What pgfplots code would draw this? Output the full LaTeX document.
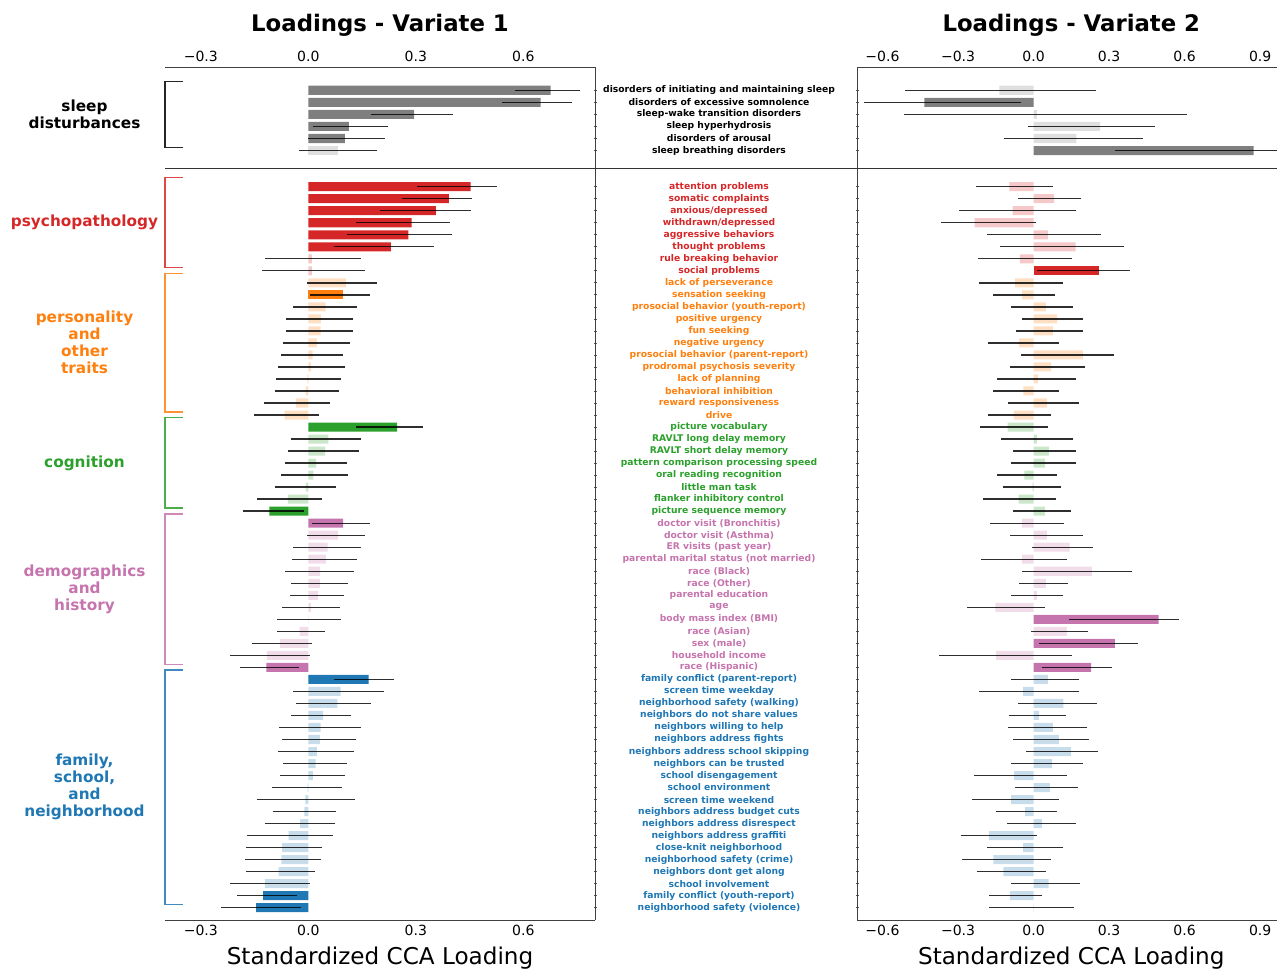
\documentclass[border=0pt]{standalone}
\usepackage{pgfplots}
\pgfplotsset{compat=1.18}
\usepackage{pgfplotstable}
\usepackage{fontspec}
\setmainfont{DejaVu Sans}

\definecolor{cgray}{HTML}{7F7F7F}
\definecolor{cred}{HTML}{D62728}
\definecolor{corange}{HTML}{FF7F0E}
\definecolor{cgreen}{HTML}{2CA02C}
\definecolor{cpink}{HTML}{C674AD}
\definecolor{cblue}{HTML}{1F77B4}

% code = 2*g + s  (g: group, s: significant)
\pgfplotstableread{
row val lo hi g s
0 0.676 0.577 0.758 0 1
1 0.648 0.541 0.735 0 1
2 0.295 0.174 0.405 0 1
3 0.113 0.013 0.222 0 1
4 0.102 0.000 0.214 0 1
5 0.082 -0.027 0.193 0 0
}\topL

\pgfplotstableread{
row val lo hi g s
0 -0.136 -0.511 0.248 0 0
1 -0.434 -0.674 -0.049 0 1
2 0.013 -0.515 0.609 0 0
3 0.264 -0.022 0.482 0 0
4 0.170 -0.118 0.434 0 0
5 0.874 0.325 0.980 0 1
}\topR

\pgfplotstableread{
row val lo hi g s
0 0.453 0.303 0.526 1 1
1 0.392 0.262 0.458 1 1
2 0.356 0.201 0.453 1 1
3 0.288 0.134 0.395 1 1
4 0.279 0.107 0.401 1 1
5 0.230 0.072 0.350 1 1
6 0.010 -0.121 0.147 1 0
7 0.010 -0.128 0.159 1 0
8 0.105 -0.003 0.193 2 0
9 0.097 0.004 0.172 2 1
10 0.048 -0.042 0.135 2 0
11 0.035 -0.061 0.125 2 0
12 0.034 -0.062 0.124 2 0
13 0.024 -0.072 0.117 2 0
14 0.012 -0.077 0.098 2 0
15 0.007 -0.084 0.101 2 0
16 -0.003 -0.090 0.090 2 0
17 -0.007 -0.093 0.085 2 0
18 -0.034 -0.123 0.060 2 0
19 -0.066 -0.151 0.030 2 0
20 0.248 0.132 0.319 3 1
21 0.056 -0.047 0.148 3 0
22 0.047 -0.057 0.140 3 0
23 0.022 -0.066 0.107 3 0
24 0.014 -0.075 0.110 3 0
25 -0.007 -0.093 0.077 3 0
26 -0.057 -0.142 0.039 3 0
27 -0.109 -0.182 -0.013 3 1
28 0.097 0.011 0.171 4 1
29 0.083 -0.005 0.157 4 0
30 0.054 -0.044 0.146 4 0
31 0.049 -0.045 0.137 4 0
32 0.033 -0.065 0.127 4 0
33 0.032 -0.048 0.110 4 0
34 0.027 -0.052 0.100 4 0
35 0.008 -0.073 0.087 4 0
36 0.001 -0.087 0.091 4 0
37 -0.024 -0.087 0.047 4 0
38 -0.079 -0.157 0.010 4 0
39 -0.116 -0.219 0.006 4 0
40 -0.117 -0.190 -0.025 4 1
41 0.168 0.071 0.238 5 1
42 0.090 -0.042 0.210 5 0
43 0.081 -0.034 0.174 5 0
44 0.041 -0.048 0.120 5 0
45 0.034 -0.082 0.146 5 0
46 0.032 -0.073 0.132 5 0
47 0.024 -0.084 0.127 5 0
48 0.020 -0.070 0.109 5 0
49 0.013 -0.079 0.102 5 0
50 -0.002 -0.101 0.095 5 0
51 -0.008 -0.144 0.131 5 0
52 -0.011 -0.098 0.078 5 0
53 -0.023 -0.121 0.074 5 0
54 -0.055 -0.170 0.069 5 0
55 -0.073 -0.173 0.037 5 0
56 -0.075 -0.177 0.036 5 0
57 -0.083 -0.173 0.018 5 0
58 -0.121 -0.220 0.004 5 0
59 -0.126 -0.199 -0.033 5 1
60 -0.146 -0.244 -0.020 5 1
}\botL

\pgfplotstableread{
row val lo hi g s
0 -0.096 -0.228 0.077 1 0
1 0.082 -0.063 0.188 1 0
2 -0.083 -0.296 0.168 1 0
3 -0.234 -0.368 0.009 1 0
4 0.057 -0.185 0.268 1 0
5 0.167 -0.135 0.359 1 0
6 -0.054 -0.222 0.151 1 0
7 0.260 0.012 0.382 1 1
8 -0.073 -0.217 0.118 2 0
9 -0.045 -0.160 0.085 2 0
10 0.049 -0.090 0.156 2 0
11 0.094 -0.047 0.196 2 0
12 0.077 -0.070 0.195 2 0
13 -0.057 -0.181 0.101 2 0
14 0.196 -0.051 0.320 2 0
15 0.070 -0.093 0.203 2 0
16 0.017 -0.147 0.169 2 0
17 -0.040 -0.163 0.101 2 0
18 0.054 -0.103 0.182 2 0
19 -0.078 -0.181 0.068 2 0
20 -0.103 -0.212 0.056 3 0
21 0.013 -0.131 0.156 3 0
22 0.061 -0.081 0.169 3 0
23 0.045 -0.091 0.169 3 0
24 -0.036 -0.144 0.093 3 0
25 -0.004 -0.122 0.110 3 0
26 -0.059 -0.200 0.089 3 0
27 0.045 -0.081 0.150 3 0
28 -0.046 -0.173 0.119 4 0
29 0.053 -0.094 0.195 4 0
30 0.143 -0.006 0.235 4 0
31 -0.045 -0.209 0.132 4 0
32 0.232 -0.044 0.390 4 0
33 0.049 -0.059 0.136 4 0
34 0.013 -0.091 0.117 4 0
35 -0.152 -0.263 0.047 4 0
36 0.497 0.139 0.577 4 1
37 0.132 -0.009 0.215 4 0
38 0.323 0.020 0.415 4 1
39 -0.149 -0.377 0.154 4 0
40 0.229 0.035 0.310 4 1
41 0.057 -0.090 0.182 5 0
42 -0.041 -0.218 0.179 5 0
43 0.118 -0.063 0.252 5 0
44 0.021 -0.099 0.129 5 0
45 0.077 -0.103 0.214 5 0
46 0.101 -0.081 0.221 5 0
47 0.148 -0.028 0.256 5 0
48 0.074 -0.091 0.195 5 0
49 -0.077 -0.238 0.134 5 0
50 0.065 -0.073 0.176 5 0
51 -0.089 -0.246 0.101 5 0
52 -0.033 -0.148 0.093 5 0
53 0.033 -0.107 0.167 5 0
54 -0.177 -0.287 0.012 5 0
55 -0.041 -0.184 0.118 5 0
56 -0.160 -0.284 0.068 5 0
57 -0.120 -0.226 0.048 5 0
58 0.060 -0.089 0.185 5 0
59 -0.094 -0.177 0.035 5 0
60 0.001 -0.175 0.161 5 0
}\botR

\newcommand{\bars}[3]{\addplot[xbar, bar width=0.75, draw=none, fill=#3, forget plot,
  restrict expr to domain={2*\thisrow{g}+\thisrow{s}}{#2}]
  table[x=val, y expr=-\thisrow{row}] {#1};}
\newcommand{\cis}[1]{\addplot[draw=none, mark=none, forget plot,
  error bars/.cd, x dir=both, x explicit, error mark=none,
  error bar style={draw=black, draw opacity=0.82, line width=1.35pt}]
  table[x=val, y expr=-\thisrow{row},
        x error plus expr=\thisrow{hi}-\thisrow{val},
        x error minus expr=\thisrow{val}-\thisrow{lo}] {#1};}
\newcommand{\brk}[3]{\draw[#1, draw opacity=0.85, line width=1.5pt, line join=miter]
  (axis cs:-0.35,#2) -- (axis cs:-0.4,#2) -- (axis cs:-0.4,#3) -- (axis cs:-0.35,#3);}
\newcommand{\grp}[3]{\node[align=center, text=#1, font=\bfseries\fontsize{15.3}{17}\selectfont]
  at (axis cs:-0.6246,#2) {#3};}
\newcommand{\lb}[2]{\textcolor{#1}{#2}}

\pgfplotsset{
  cca/.style={scale only axis, clip=false, tick align=outside,
    x tick style={draw=none},
    y tick style={black!65, line width=0.7pt},
    major tick length=3pt,
    xticklabel style={font=\fontsize{14}{16}\selectfont},
  },
  noarrows/.style={
    axis line style={-, black!75, line width=0.9pt},
    every outer x axis line/.append style={-},
    every outer y axis line/.append style={-},
    every inner x axis line/.append style={-},
    every inner y axis line/.append style={-},
    x axis line style={-}, y axis line style={-},
  },
  leftx/.style={xmin=-0.4, xmax=0.8, width=430pt,
    xtick={-0.3,0,0.3,0.6}, xticklabels={−0.3,0.0,0.3,0.6},
    axis y line=right,
    yticklabel style={anchor=center, xshift=122.5pt,
      font=\bfseries\fontsize{9.2}{11}\selectfont}},
  rightx/.style={xmin=-0.7, xmax=1.0, width=428pt,
    xtick={-0.6,-0.3,0,0.3,0.6,0.9}, xticklabels={−0.6,−0.3,0.0,0.3,0.6,0.9},
    axis y line=left},
  toppanel/.style={height=102pt, ymin=-6.53, ymax=1.93, ytick={0,-1,...,-5},
    axis x line=top},
  botpanel/.style={height=751pt, ymin=-61.02, ymax=1.473, ytick={0,-1,...,-60},
    axis x line=bottom},
}

\begin{document}
\begin{tikzpicture}
\useasboundingbox (0,0) rectangle (1277pt,969pt);

% ---------- top left ----------
\begin{axis}[cca, leftx, toppanel, noarrows, at={(165pt,800pt)}, anchor=south west,
  yticklabels={disorders of initiating and maintaining sleep,
    disorders of excessive somnolence, sleep-wake transition disorders,
    sleep hyperhydrosis, disorders of arousal, sleep breathing disorders}]
\bars{\topL}{-0.1:0.1}{cgray!25}
\bars{\topL}{0.9:1.1}{cgray}
\cis{\topL}
\brk{black}{0.73}{-4.76}
\grp{black}{-1.98}{sleep\\disturbances}
\end{axis}

% ---------- top right ----------
\begin{axis}[cca, rightx, toppanel, noarrows, yticklabels={}, at={(857.3pt,800pt)}, anchor=south west]
\bars{\topR}{-0.1:0.1}{cgray!25}
\bars{\topR}{0.9:1.1}{cgray}
\cis{\topR}
\end{axis}

% ---------- bottom left ----------
\begin{axis}[cca, leftx, botpanel, noarrows, at={(165pt,49pt)}, anchor=south west,
  yticklabels={
  \lb{cred}{attention problems},\lb{cred}{somatic complaints},\lb{cred}{anxious/depressed},
  \lb{cred}{withdrawn/depressed},\lb{cred}{aggressive behaviors},\lb{cred}{thought problems},
  \lb{cred}{rule breaking behavior},\lb{cred}{social problems},
  \lb{corange}{lack of perseverance},\lb{corange}{sensation seeking},
  \lb{corange}{prosocial behavior (youth-report)},\lb{corange}{positive urgency},
  \lb{corange}{fun seeking},\lb{corange}{negative urgency},
  \lb{corange}{prosocial behavior (parent-report)},\lb{corange}{prodromal psychosis severity},
  \lb{corange}{lack of planning},\lb{corange}{behavioral inhibition},
  \lb{corange}{reward responsiveness},\lb{corange}{drive},
  \lb{cgreen}{picture vocabulary},\lb{cgreen}{RAVLT long delay memory},
  \lb{cgreen}{RAVLT short delay memory},\lb{cgreen}{pattern comparison processing speed},
  \lb{cgreen}{oral reading recognition},\lb{cgreen}{little man task},
  \lb{cgreen}{flanker inhibitory control},\lb{cgreen}{picture sequence memory},
  \lb{cpink}{doctor visit (Bronchitis)},\lb{cpink}{doctor visit (Asthma)},
  \lb{cpink}{ER visits (past year)},\lb{cpink}{parental marital status (not married)},
  \lb{cpink}{race (Black)},\lb{cpink}{race (Other)},\lb{cpink}{parental education},
  \lb{cpink}{age},\lb{cpink}{body mass index (BMI)},\lb{cpink}{race (Asian)},
  \lb{cpink}{sex (male)},\lb{cpink}{household income},\lb{cpink}{race (Hispanic)},
  \lb{cblue}{family conflict (parent-report)},\lb{cblue}{screen time weekday},
  \lb{cblue}{neighborhood safety (walking)},\lb{cblue}{neighbors do not share values},
  \lb{cblue}{neighbors willing to help},\lb{cblue}{neighbors address fights},
  \lb{cblue}{neighbors address school skipping},\lb{cblue}{neighbors can be trusted},
  \lb{cblue}{school disengagement},\lb{cblue}{school environment},
  \lb{cblue}{screen time weekend},\lb{cblue}{neighbors address budget cuts},
  \lb{cblue}{neighbors address disrespect},\lb{cblue}{neighbors address graffiti},
  \lb{cblue}{close-knit neighborhood},\lb{cblue}{neighborhood safety (crime)},
  \lb{cblue}{neighbors dont get along},\lb{cblue}{school involvement},
  \lb{cblue}{family conflict (youth-report)},\lb{cblue}{neighborhood safety (violence)}}]
\bars{\botL}{1.9:2.1}{cred!25}
\bars{\botL}{2.9:3.1}{cred}
\bars{\botL}{3.9:4.1}{corange!25}
\bars{\botL}{4.9:5.1}{corange}
\bars{\botL}{5.9:6.1}{cgreen!25}
\bars{\botL}{6.9:7.1}{cgreen}
\bars{\botL}{7.9:8.1}{cpink!25}
\bars{\botL}{8.9:9.1}{cpink}
\bars{\botL}{9.9:10.1}{cblue!25}
\bars{\botL}{10.9:11.1}{cblue}
\cis{\botL}
\brk{cred}{0.78}{-6.74}
\brk{corange}{-7.22}{-18.74}
\brk{cgreen}{-19.22}{-26.74}
\brk{cpink}{-27.22}{-39.74}
\brk{cblue}{-40.22}{-59.74}
\grp{cred}{-2.98}{psychopathology}
\grp{corange}{-12.98}{personality\\and\\other\\traits}
\grp{cgreen}{-22.98}{cognition}
\grp{cpink}{-33.48}{demographics\\and\\history}
\grp{cblue}{-49.98}{family,\\school,\\and\\neighborhood}
\end{axis}

% ---------- bottom right ----------
\begin{axis}[cca, rightx, botpanel, noarrows, yticklabels={}, at={(857.3pt,49pt)}, anchor=south west]
\bars{\botR}{1.9:2.1}{cred!25}
\bars{\botR}{2.9:3.1}{cred}
\bars{\botR}{3.9:4.1}{corange!25}
\bars{\botR}{5.9:6.1}{cgreen!25}
\bars{\botR}{7.9:8.1}{cpink!25}
\bars{\botR}{8.9:9.1}{cpink}
\bars{\botR}{9.9:10.1}{cblue!25}
\cis{\botR}
\end{axis}

\draw[black!80, line width=1pt] (165pt,800pt) -- (1277pt,800pt);

\node[anchor=base, font=\bfseries\fontsize{22.8}{27}\selectfont] at (380pt,937.3pt) {Loadings - Variate 1};
\node[anchor=base, font=\bfseries\fontsize{22.8}{27}\selectfont] at (1071.3pt,937.3pt) {Loadings - Variate 2};
\node[anchor=base, font=\fontsize{23.1}{27}\selectfont] at (380pt,4.7pt) {Standardized CCA Loading};
\node[anchor=base, font=\fontsize{23.1}{27}\selectfont] at (1071.3pt,4.7pt) {Standardized CCA Loading};
\end{tikzpicture}
\end{document}
